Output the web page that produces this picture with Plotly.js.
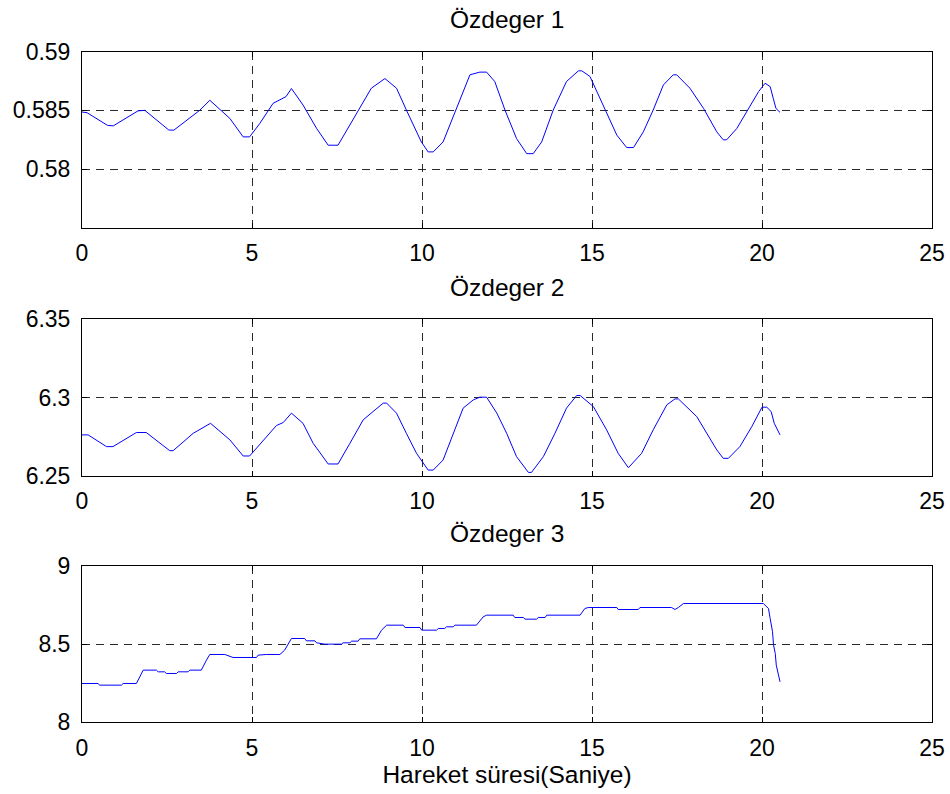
<!DOCTYPE html>
<html>
<head>
<meta charset="utf-8">
<script src="https://cdn.plot.ly/plotly-3.0.1.min.js"></script>
<style>
  html, body { margin: 0; padding: 0; background: #ffffff; }
  #chart { width: 950px; height: 794px; }
</style>
</head>
<body>
<div id="chart"></div>
<script>
// ---- Data ----
const titles = ["Özdeger 1", "Özdeger 2", "Özdeger 3"];
const xTitle = "Hareket süresi(Saniye)";
const xTicks = [0, 5, 10, 15, 20, 25];
const y1Ticks = [0.58, 0.585, 0.59];
const y2Ticks = [6.25, 6.3, 6.35];
const y3Ticks = [8, 8.5, 9];

const t1 = [0, 0.15, 0.75, 0.92, 1.65, 1.85, 2.55, 2.70, 3.46, 3.76, 4.35, 4.74, 4.93, 5.23, 5.62, 5.92, 6.0, 6.16,
  6.50, 6.90, 7.24, 7.53, 8.17, 8.51, 8.91, 9.25, 9.54, 9.98, 10.18, 10.33, 10.62, 11.02, 11.31, 11.41,
  11.70, 11.90, 12.14, 12.44, 12.78, 13.08, 13.27, 13.52, 13.86, 14.25, 14.60, 14.70, 14.94, 15.33, 15.73,
  16.02, 16.22, 16.51, 16.80, 17.10, 17.39, 17.49, 17.88, 18.28, 18.67, 18.86, 18.96, 19.26, 19.60, 19.90,
  20.09, 20.24, 20.33, 20.41, 20.53];
const v1 = [0.58486, 0.58480, 0.58372, 0.58368, 0.58496, 0.58500, 0.58333, 0.58331, 0.58500, 0.58586, 0.58431,
  0.58274, 0.58274, 0.58389, 0.58560, 0.58603, 0.58617, 0.58686,
  0.58546, 0.58346, 0.58203, 0.58203, 0.58517, 0.58689, 0.58771, 0.58689, 0.58503, 0.58231, 0.58146, 0.58146,
  0.58231, 0.58517, 0.58731, 0.58803,
  0.58826, 0.58826, 0.58746, 0.58503, 0.58260, 0.58131, 0.58131, 0.58231, 0.58503, 0.58746, 0.58837, 0.58837,
  0.58789, 0.58546, 0.58289, 0.58183, 0.58183, 0.58317, 0.58503, 0.58717, 0.58803, 0.58803, 0.58689, 0.58517,
  0.58317, 0.58249, 0.58249, 0.58346, 0.58517, 0.58660, 0.58731, 0.58703, 0.58603, 0.58517, 0.58483];

const t2 = [0, 0.18, 0.72, 0.91, 1.60, 1.89, 2.58, 2.68, 3.27, 3.78, 4.35, 4.74, 4.93, 5.42, 5.72, 5.92, 6.16,
  6.50, 6.80, 7.24, 7.53, 7.88, 8.27, 8.56, 8.86, 8.96, 9.25, 9.54, 9.84, 10.18, 10.33, 10.62, 10.92, 11.21, 11.51,
  11.70, 11.90, 12.20, 12.49, 12.78, 13.13, 13.22, 13.57, 13.91, 14.25, 14.55, 14.65, 15.04, 15.43, 15.77, 16.07,
  16.46, 16.80, 17.20, 17.44, 17.54, 18.08, 18.38, 18.67, 18.86, 19.01, 19.35, 19.70, 20.00, 20.14, 20.27, 20.36, 20.53];
const v2 = [6.2761, 6.2761, 6.2686, 6.2686, 6.2776, 6.2776, 6.2660, 6.2660, 6.2771, 6.2835, 6.2729, 6.2626, 6.2626,
  6.2750, 6.2821, 6.2840, 6.2900,
  6.2835, 6.2707, 6.2575, 6.2575, 6.2707, 6.2857, 6.2910, 6.2964, 6.2964, 6.2900, 6.2771, 6.2643, 6.2536, 6.2536,
  6.2600, 6.2771, 6.2932, 6.2985,
  6.3002, 6.3002, 6.2900, 6.2771, 6.2622, 6.2521, 6.2521, 6.2622, 6.2771, 6.2932, 6.3013, 6.3013, 6.2942, 6.2793,
  6.2643, 6.2551, 6.2643, 6.2793, 6.2953, 6.2991, 6.2991, 6.2878, 6.2771, 6.2665, 6.2611, 6.2611, 6.2686, 6.2814,
  6.2938, 6.2938, 6.2910, 6.2835, 6.2761];

const t3 = [0, 0.47, 0.52, 1.16, 1.21, 1.60, 1.80, 2.19, 2.24, 2.43, 2.48, 2.78, 2.83, 3.12, 3.17, 3.51, 3.66, 3.76,
  4.20, 4.44, 5.13, 5.18, 5.42, 5.82, 5.96, 6.16, 6.55, 6.60, 6.85, 6.90, 7.14, 7.63, 7.68, 7.88, 7.93, 8.12,
  8.17, 8.66, 8.81, 8.96, 9.45, 9.50, 9.94, 9.99, 10.43, 10.48, 10.67, 10.72, 10.92, 10.97, 11.60,
  11.80, 11.90, 12.68, 12.73, 12.98, 13.03, 13.37, 13.42, 13.62, 13.67, 14.65, 14.79, 14.89, 15.73, 15.77, 16.36,
  16.41, 17.34, 17.44, 17.54, 17.69, 20.04, 20.19, 20.24, 20.31, 20.34, 20.39, 20.42, 20.49, 20.53];
const v3 = [8.2484, 8.2484, 8.2377, 8.2377, 8.2484, 8.2484, 8.3337, 8.3337, 8.3230, 8.3230, 8.3124, 8.3124, 8.3230,
  8.3230, 8.3337, 8.3337, 8.3977, 8.4339,
  8.4339, 8.4147, 8.4147, 8.4296, 8.4339, 8.4339, 8.4616, 8.5362, 8.5362, 8.5213, 8.5213, 8.5085, 8.5000, 8.5000,
  8.5085, 8.5085, 8.5192, 8.5192,
  8.5341, 8.5341, 8.5896, 8.6215, 8.6215, 8.6066, 8.6066, 8.5896, 8.5896, 8.6002, 8.6002, 8.6109, 8.6109, 8.6215, 8.6215,
  8.6748, 8.6855, 8.6855, 8.6706, 8.6706, 8.6599, 8.6599, 8.6706, 8.6706, 8.6855, 8.6855, 8.7281, 8.7345, 8.7345,
  8.7217, 8.7217, 8.7345, 8.7345, 8.7217, 8.7345, 8.7601, 8.7601, 8.7281, 8.6642, 8.5789, 8.4936, 8.4403, 8.3657,
  8.2910, 8.2591];

// ---- Styling ----
const FONT = '"Liberation Sans", Arial, Helvetica, sans-serif';
const FS = 23;      // tick labels
const FT = 24.5;    // titles
const lineStyle = { color: '#0000ff', width: 1 };

const traces = [
  { x: t1, y: v1, xaxis: 'x', yaxis: 'y', type: 'scatter', mode: 'lines', line: lineStyle, hoverinfo: 'skip' },
  { x: t2, y: v2, xaxis: 'x2', yaxis: 'y2', type: 'scatter', mode: 'lines', line: lineStyle, hoverinfo: 'skip' },
  { x: t3, y: v3, xaxis: 'x3', yaxis: 'y3', type: 'scatter', mode: 'lines', line: lineStyle, hoverinfo: 'skip' }
];

function axisBase(extra) {
  return Object.assign({
    showgrid: true, gridcolor: '#2a2a2a', gridwidth: 1, griddash: '8px,6px',
    showline: true, linecolor: '#000000', linewidth: 1, mirror: 'ticks',
    ticks: 'inside', ticklen: 5, tickcolor: '#000000', tickwidth: 1,
    zeroline: false, automargin: false, fixedrange: true,
    tickfont: { family: FONT, size: FS, color: '#000000' }
  }, extra);
}

const H = 794;
const dom = (topPx, botPx) => [1 - botPx / H, 1 - topPx / H];
const titleFont = { family: FONT, size: FT, color: '#000000' };

const layout = {
  width: 950, height: 794,
  margin: { l: 82, r: 18, t: 0, b: 0 },
  paper_bgcolor: '#ffffff', plot_bgcolor: '#ffffff',
  showlegend: false,
  font: { family: FONT, size: FS, color: '#000000' },
  xaxis: axisBase({ domain: [0, 1], anchor: 'y', range: [0, 25], tickvals: xTicks, ticklabelstandoff: 5 }),
  yaxis: axisBase({ domain: dom(51.7, 227.7), anchor: 'x', range: [0.575, 0.59], tickvals: y1Ticks, ticktext: y1Ticks.map(String), ticklabelstandoff: 6 }),
  xaxis2: axisBase({ domain: [0, 1], anchor: 'y2', range: [0, 25], tickvals: xTicks, ticklabelstandoff: 5 }),
  yaxis2: axisBase({ domain: dom(319.3, 475.7), anchor: 'x2', range: [6.25, 6.35], tickvals: y2Ticks, ticktext: y2Ticks.map(String), ticklabelstandoff: 6 }),
  xaxis3: axisBase({ domain: [0, 1], anchor: 'y3', range: [0, 25], tickvals: xTicks, ticklabelstandoff: 5,
    title: { text: xTitle, font: titleFont, standoff: 1 } }),
  yaxis3: axisBase({ domain: dom(566, 722.3), anchor: 'x3', range: [8, 9], tickvals: y3Ticks, ticktext: y3Ticks.map(String), ticklabelstandoff: 6 }),
  annotations: [
    { text: titles[0], xref: 'paper', yref: 'paper', x: 0.5, y: 1 - 35 / H, xanchor: 'center', yanchor: 'bottom', showarrow: false, font: titleFont },
    { text: titles[1], xref: 'paper', yref: 'paper', x: 0.5, y: 1 - 303 / H, xanchor: 'center', yanchor: 'bottom', showarrow: false, font: titleFont },
    { text: titles[2], xref: 'paper', yref: 'paper', x: 0.5, y: 1 - 549 / H, xanchor: 'center', yanchor: 'bottom', showarrow: false, font: titleFont }
  ]
};

Plotly.newPlot('chart', traces, layout, { displayModeBar: false, staticPlot: true });
</script>
</body>
</html>
